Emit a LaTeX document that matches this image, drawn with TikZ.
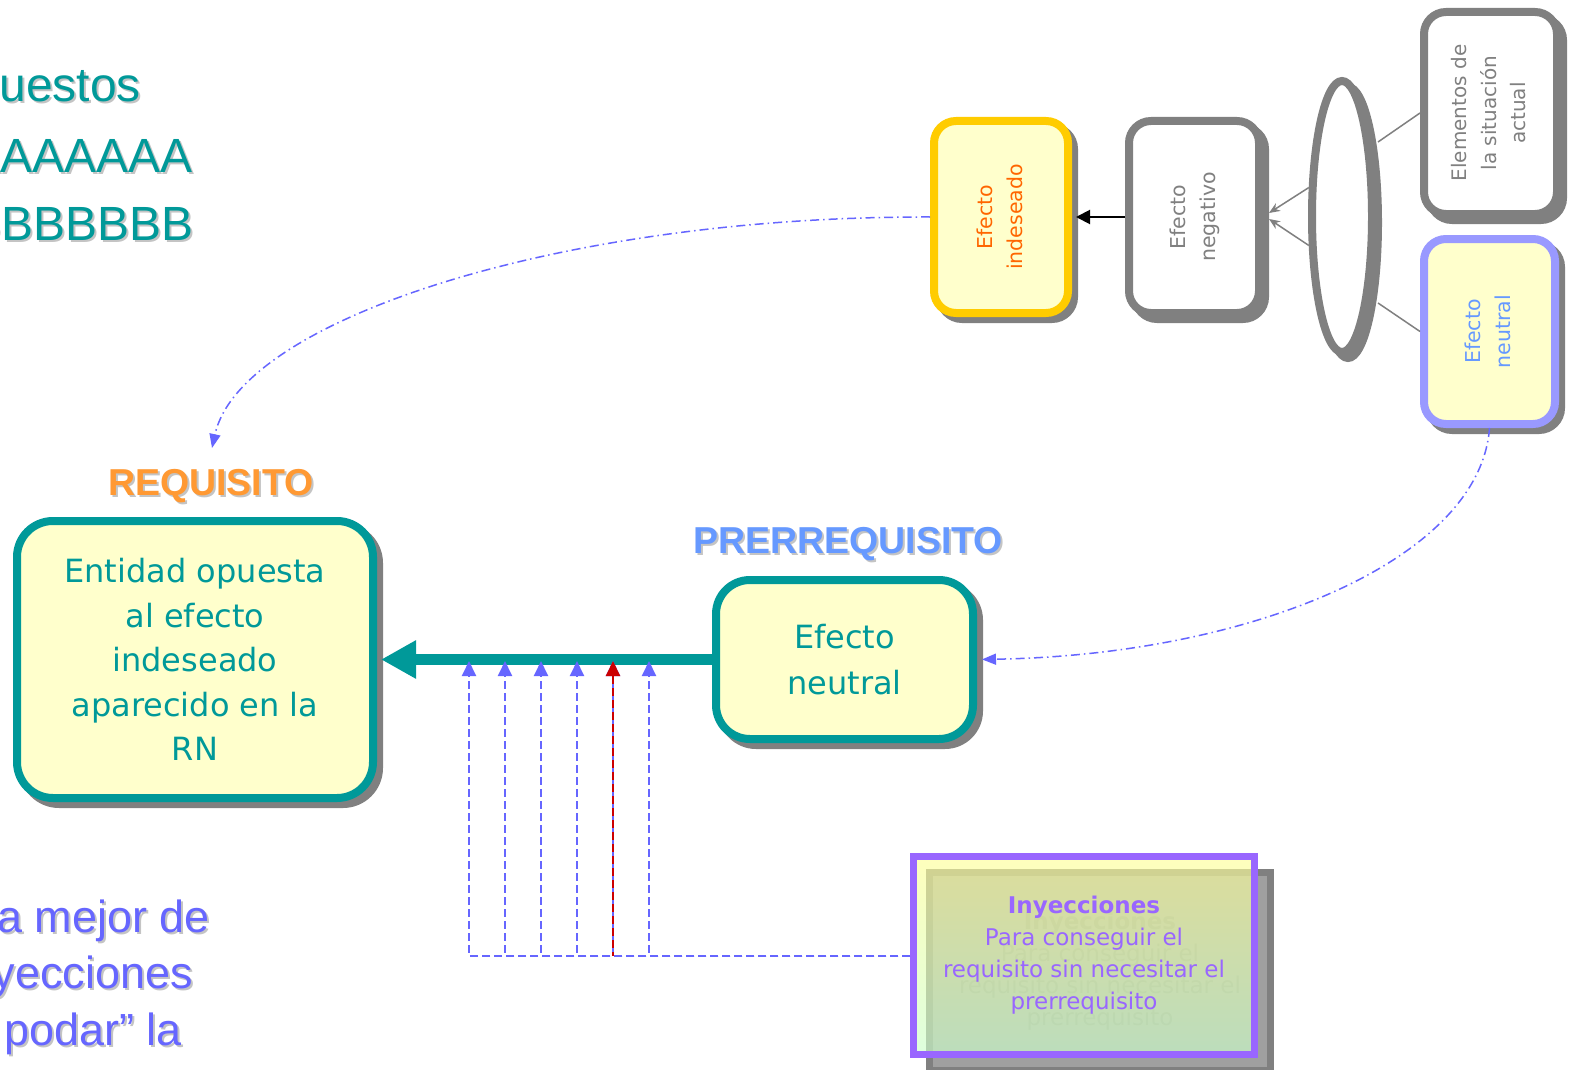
\documentclass[tikz,border=0pt]{standalone}
\usepackage{fontspec}
\usepackage{graphicx}
\setmainfont{DejaVu Sans}
\newfontfamily\arialfont{Liberation Sans}
\usetikzlibrary{arrows.meta,shapes.geometric}

\definecolor{tealc}{HTML}{009999}
\definecolor{paleyellow}{HTML}{FFFFCC}
\definecolor{orangec}{HTML}{FF9933}
\definecolor{prereqc}{HTML}{6699FF}
\definecolor{bluec}{HTML}{6666FF}
\definecolor{redc}{HTML}{CC0000}
\definecolor{purplec}{HTML}{9966FF}
\definecolor{shadowgray}{HTML}{808080}
\definecolor{yellowc}{HTML}{FFCC00}
\definecolor{indesc}{HTML}{FF6600}
\definecolor{neutralc}{HTML}{9999FF}
\definecolor{txtshadow}{HTML}{C4C4C4}
\definecolor{injtop}{HTML}{FFFF99}
\definecolor{injbot}{HTML}{CCFFCC}
\definecolor{injshfill}{HTML}{A0A0A0}
\definecolor{ghostc}{HTML}{909090}

% text with a soft grey drop shadow
\newcommand\shtxt[2]{\rlap{\kern2pt\raisebox{-2pt}{\color{txtshadow}#2}}{\color{#1}#2}}

\begin{document}
\begin{tikzpicture}[x=1pt,y=-1pt,
  shadowed/.style={preaction={draw=shadowgray,fill=shadowgray,line width=8pt,
      transform canvas={xshift=6pt,yshift=-6pt}}},
  mainbox/.style={draw=tealc,fill=paleyellow,line width=8pt,rounded corners=36pt,
      inner sep=0pt,align=center,text=tealc,shadowed},
  sidebox/.style={line width=8pt,rounded corners=22pt,inner sep=0pt,shadowed,
      font=\fontsize{20.5}{30}\selectfont},
  bigtext/.style={inner sep=0pt,anchor=base east,font=\arialfont\fontsize{48}{56}\selectfont},
  lowtext/.style={inner sep=0pt,anchor=base east,font=\arialfont\fontsize{45}{52}\selectfont},
  title/.style={inner sep=0pt,anchor=base,font=\arialfont\bfseries\fontsize{37.5}{40}\selectfont},
  bigarrow/.style={draw=tealc,line width=11pt,-{Triangle[length=35pt,width=36pt]},shorten >=4pt},
  injline/.style={draw=bluec,line width=2pt,dash pattern=on 8pt off 4pt,
      -{Triangle[length=15pt,width=14pt]}},
  redline/.style={draw=redc,line width=2pt,dash pattern=on 8pt off 4pt,dash phase=4pt,
      -{Triangle[length=15pt,width=14pt]}},
  flowline/.style={draw=bluec,line width=1.5pt,dash pattern=on 9pt off 4pt on 1.5pt off 4pt,
      -{Triangle[length=14pt,width=11pt]}},
  gline/.style={draw=shadowgray,line width=1.5pt},
  garrow/.style={gline,-{Stealth[length=11pt,width=9pt]}},
]
\useasboundingbox (0,0) rectangle (1577,1070);
\fill[white] (0,0) rectangle (1577,1070);
\clip (0,0) rectangle (1577,1070);

% headline text on the left
\node[bigtext] (h1) at (141,102) {\shtxt{tealc}{Supuestos}};
\node[bigtext] (h2) at (193,172) {\shtxt{tealc}{AAAAAAA}};
\node[bigtext] (h3) at (194,240) {\shtxt{tealc}{BBBBBBB}};

\node[lowtext] (l1) at (210,932) {\shtxt{bluec}{la mejor de}};
\node[lowtext] (l2) at (193,988) {\shtxt{bluec}{inyecciones}};
\node[lowtext] (l3) at (182,1045) {\shtxt{bluec}{podar” la}};

% requirement and prerequisite
\node[title] (reqlabel) at (211,495) {\shtxt{orangec}{REQUISITO}};
\node[title] (prelabel) at (848,553) {\shtxt{prereqc}{PRERREQUISITO}};

\node[mainbox,minimum width=356pt,minimum height=277pt,
      font=\fontsize{32}{44.5}\selectfont] (req) at (195,659.5)
  {Entidad opuesta\\al efecto\\indeseado\\aparecido en la\\RN};
\node[mainbox,rounded corners=34pt,minimum width=257pt,minimum height=159pt,
      font=\fontsize{32}{46}\selectfont] (pre) at (844.5,659.5)
  {Efecto\\neutral};

\draw[bigarrow] (pre.west) -- (req.east);

% current reality branch
\node[sidebox,draw=yellowc,fill=paleyellow,text=indesc,
      minimum width=134pt,minimum height=192pt] (indes) at (1001,217)
  {\rotatebox{90}{\begin{tabular}{@{}c@{}}Efecto\\indeseado\end{tabular}}};
\node[sidebox,draw=shadowgray,fill=white,text=shadowgray,
      minimum width=130pt,minimum height=192pt] (neg) at (1194,217)
  {\rotatebox{90}{\begin{tabular}{@{}c@{}}Efecto\\negativo\end{tabular}}};
\node[sidebox,draw=shadowgray,fill=white,text=shadowgray,
      font=\fontsize{20}{29.5}\selectfont,
      minimum width=133pt,minimum height=202pt] (elem) at (1490.5,113)
  {\rotatebox{90}{\begin{tabular}{@{}c@{}}Elementos de\\la situación\\actual\end{tabular}}};
\node[sidebox,draw=neutralc,fill=paleyellow,text=prereqc,
      minimum width=131pt,minimum height=185pt] (nt) at (1489.5,331.5)
  {\rotatebox{90}{\begin{tabular}{@{}c@{}}Efecto\\neutral\end{tabular}}};

\draw[gline] (elem.west) -- (1378,142);
\draw[gline] (nt.west) -- (1378,303);
\node[ellipse,draw=shadowgray,fill=white,line width=8pt,inner sep=0pt,
      minimum width=60pt,minimum height=271pt,shadowed] (ell) at (1342,216.5) {};
\draw[garrow] (ell.139) -- ([yshift=4pt,xshift=6pt]neg.east);
\draw[garrow] (ell.221) -- ([yshift=-2pt,xshift=6pt]neg.east);
\draw[line width=2pt,-{Triangle[length=14pt,width=14pt]},shorten >=4pt] (neg.west) -- (indes.east);

% links between the branch and the requirement tree
\coordinate (reqin) at (212,448);
\draw[flowline] (indes.west) .. controls (560,216) and (240,320) .. (reqin);
\draw[flowline,shorten >=5pt] (nt.south) .. controls (1480,560) and (1250,655) .. (pre.east);

% injections
\node[draw=shadowgray,fill=injshfill,line width=7pt,inner sep=0pt,
      minimum width=341pt,minimum height=198pt,align=center,text=ghostc,
      font=\fontsize{23}{32}\selectfont] (injsh) at (1100,971.5)
  {\textbf{Inyecciones}\\Para conseguir el\\requisito sin necesitar el\\prerrequisito};
\node[draw=purplec,line width=7pt,top color=injtop,bottom color=injbot,
      fill opacity=0.65,text opacity=1,inner sep=0pt,
      minimum width=341pt,minimum height=198pt,align=center,text=purplec,
      font=\fontsize{23}{32}\selectfont] (inj) at (1084,955.5)
  {\textbf{Inyecciones}\\Para conseguir el\\requisito sin necesitar el\\prerrequisito};

\coordinate (a1) at (469,661);
\coordinate (a2) at (505,661);
\coordinate (a3) at (541,661);
\coordinate (a4) at (577,661);
\coordinate (a5) at (613,661);
\coordinate (a6) at (649,661);
\foreach \i in {1,...,6} \draw[injline] (inj.west) -| (a\i);
\draw[redline] (a5 |- inj.west) -- (a5);
\end{tikzpicture}
\end{document}
